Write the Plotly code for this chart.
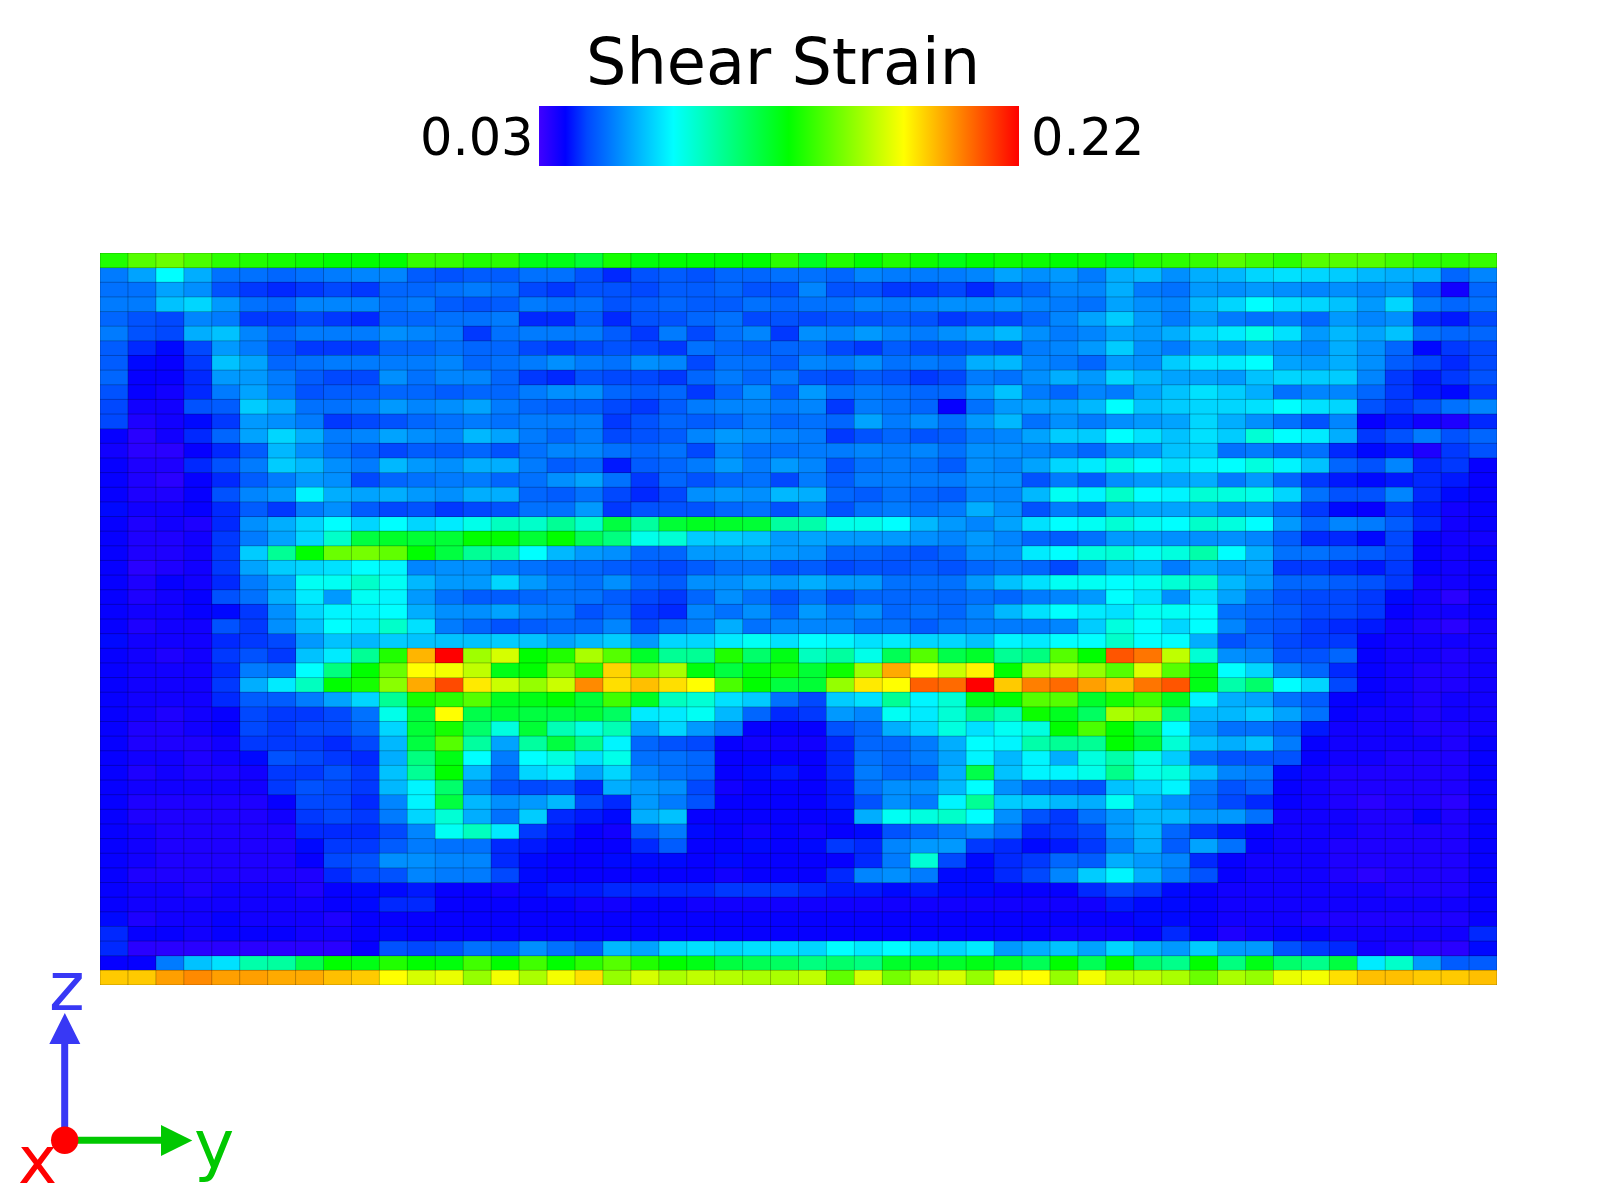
import plotly.graph_objects as go

TITLE = "Shear Strain"
STRAIN_MIN = 0.03
STRAIN_MAX = 0.22
N_COLS = 50
N_ROWS = 50

# Colour-bar position (percent of the bar) of every cell, top row first.
r00 = [55,60,62,59,56,55,54,53,52,52,52,57,57,55,56,50,50, 47,54,51,52,52,52,52,56,49,55,52,55,53,50,52,53, 53,52,53,50,55,56,57,60,58,56,60,60,60,58,56,56,57]
r01 = [15,19,28,20,14,14,13,14,15,16,16,12,11,12,12,14,14, 11,8,11,12,11,13,13,14,14,13,16,15,15,15,16,19, 17,18,15,20,21,17,20,21,24,25,24,23,21,20,20,13,16]
r02 = [14,14,19,17,11,9,8,9,10,9,13,13,14,15,14,10,9, 11,11,10,12,12,13,11,11,16,11,11,9,9,10,8,11, 13,16,16,20,15,14,18,17,18,17,16,17,16,17,11,4,13]
r03 = [15,15,22,24,18,14,13,16,16,16,14,15,12,11,12,15,14, 14,11,12,13,12,12,14,13,14,14,16,15,16,17,17,18, 16,15,14,19,17,16,21,24,28,25,24,22,18,24,15,13,14]
r04 = [13,11,10,16,15,9,9,10,9,8,13,13,14,14,15,8,8, 12,8,11,11,13,14,10,11,10,11,11,12,11,9,10,10, 13,16,19,23,18,15,18,15,14,15,13,18,16,17,8,7,10]
r05 = [15,11,10,20,22,16,13,15,15,15,17,16,15,9,14,15,15, 15,12,9,15,10,14,16,9,17,16,18,16,15,17,19,21, 17,15,16,19,18,20,24,26,30,25,18,21,19,22,14,13,13]
r06 = [12,8,6,10,18,15,11,9,9,9,13,13,14,13,13,10,9, 10,11,10,9,14,13,12,13,13,10,9,12,10,10,11,10, 15,16,18,23,17,15,19,17,19,17,16,20,17,13,6,9,10]
r07 = [12,6,5,9,22,19,13,14,15,15,15,15,16,13,14,15,17, 15,14,17,16,10,14,14,12,16,15,17,14,15,14,20,21, 16,15,13,18,17,23,26,26,28,19,18,20,17,12,10,8,10]
r08 = [13,5,5,8,18,18,15,12,10,10,17,14,16,16,13,9,8, 11,10,10,9,13,15,13,15,11,10,12,11,9,10,15,14, 17,20,18,24,21,19,19,18,22,24,23,23,16,9,7,9,11]
r09 = [11,5,4,8,15,19,15,11,12,12,13,13,12,13,13,15,17, 17,13,12,13,9,13,17,12,18,14,15,14,13,13,18,22, 15,13,16,15,19,22,25,23,20,14,16,16,13,9,7,6,9]
r10 = [10,4,4,11,12,23,20,14,14,15,18,16,17,19,15,13,12, 12,10,9,12,15,16,16,15,16,9,15,14,13,5,14,18, 19,19,21,28,22,23,24,24,25,28,25,24,11,9,11,14,16]
r11 = [10,3,4,6,9,18,17,15,9,10,11,13,14,15,14,15,15, 15,9,11,13,12,13,15,13,14,13,19,15,17,14,18,21, 14,17,15,17,18,19,24,20,17,14,11,16,5,7,4,3,8]
r12 = [5,2,4,8,13,19,24,20,15,16,19,17,16,21,19,15,13, 15,10,11,12,16,18,17,16,15,9,11,13,11,12,15,16, 19,23,23,28,25,22,25,23,32,28,26,20,9,11,15,11,13]
r13 = [4,2,2,5,8,12,21,17,14,12,10,12,12,13,11,14,16, 16,14,13,14,10,16,14,14,15,15,16,15,16,14,17,17, 16,15,13,17,18,22,23,14,15,13,14,8,6,7,3,9,11]
r14 = [5,3,3,8,11,15,23,21,17,15,21,18,17,20,20,15,12, 13,7,12,13,15,18,15,18,16,11,14,15,14,12,17,16, 19,24,26,31,28,25,27,28,31,27,22,13,11,16,8,9,5]
r15 = [5,3,2,5,8,12,15,18,17,10,13,14,15,15,13,14,17, 19,14,9,13,11,13,14,10,15,12,15,15,15,15,17,17, 11,15,12,17,18,19,20,15,18,13,9,7,6,7,8,7,5]
r16 = [5,3,3,5,11,16,18,27,20,19,20,18,17,20,20,13,12, 14,10,8,10,17,18,17,21,20,13,12,14,13,12,16,16, 21,29,27,33,28,27,32,31,30,24,14,11,11,16,8,6,5]
r17 = [6,4,4,5,8,12,9,15,17,12,10,11,9,10,11,14,14, 18,9,11,11,11,13,14,11,15,11,14,15,14,15,20,17, 11,15,13,18,19,19,19,16,17,13,9,6,5,9,7,4,5]
r18 = [5,3,4,3,8,17,20,24,28,24,28,24,26,30,34,33,38, 33,46,37,47,49,48,47,37,36,30,30,28,21,18,16,19, 25,28,29,32,29,28,33,31,28,18,13,16,15,12,8,4,5]
r19 = [5,3,3,4,9,15,19,24,33,46,48,47,47,52,52,47,52, 44,40,30,32,23,23,22,18,19,18,18,18,17,16,18,16, 13,12,14,18,18,17,17,17,16,12,8,8,6,10,5,4,4]
r20 = [5,3,3,4,9,23,38,52,62,63,61,52,46,38,36,28,21, 18,17,13,13,18,18,19,18,17,13,13,12,11,13,17,17, 26,28,31,32,29,31,36,28,20,14,14,13,12,10,5,4,5]
r21 = [5,2,3,4,9,19,23,24,25,28,27,16,17,17,15,14,13, 13,12,11,10,12,14,14,11,12,10,11,11,12,11,13,14, 13,10,15,19,20,15,19,17,18,9,9,8,7,9,5,4,5]
r22 = [5,3,5,4,8,15,19,29,29,33,29,21,18,18,24,18,15, 14,17,13,12,17,17,19,18,20,18,18,14,14,14,18,22, 25,29,29,28,29,32,33,21,18,13,13,12,11,9,4,4,5]
r23 = [5,3,4,5,11,14,20,26,18,29,27,18,14,12,12,13,14, 14,12,10,9,13,17,14,11,14,11,13,13,13,13,14,13, 15,16,18,28,25,17,25,19,14,11,10,10,9,6,4,2,5]
r24 = [5,4,4,5,6,9,17,24,27,27,28,20,17,17,19,16,15, 11,13,9,8,16,14,17,13,18,15,17,13,14,13,16,21, 25,28,26,25,29,29,28,14,13,12,10,10,9,5,4,4,5]
r25 = [5,3,4,4,11,9,17,22,28,26,33,25,15,13,11,12,13, 13,16,10,13,15,20,14,16,16,16,14,14,12,14,15,15, 15,16,23,31,28,24,28,16,12,11,9,8,7,4,3,2,4]
r26 = [6,4,4,4,8,9,10,18,22,21,23,22,22,22,23,22,19, 21,23,18,24,24,26,29,25,28,27,25,26,24,24,22,27, 26,28,28,33,28,28,20,11,13,10,9,9,5,4,4,4,4]
r27 = [5,4,3,4,9,11,9,22,26,38,55,83,100,67,72,52,55, 68,60,48,38,38,55,42,50,34,37,30,44,60,45,48,38, 40,60,52,92,89,70,32,17,16,11,11,13,5,4,4,3,4]
r28 = [5,4,4,4,8,15,14,28,40,52,62,76,75,70,50,52,63, 56,80,63,68,51,46,51,54,47,53,67,84,76,71,77,52, 68,70,66,60,73,60,50,28,24,16,13,8,5,4,3,3,4]
r29 = [5,4,4,4,9,20,26,34,52,54,65,84,93,78,71,66,71, 87,79,82,79,76,59,52,46,47,66,78,76,91,90,100,81, 88,90,85,82,89,92,50,36,42,28,24,10,5,4,3,3,4]
r30 = [5,4,4,4,8,12,12,15,19,24,38,54,56,60,49,50,52, 47,58,49,34,32,25,23,14,10,23,25,38,27,32,50,52, 60,60,48,54,58,49,27,20,19,14,12,5,5,4,3,4,4]
r31 = [5,4,3,4,5,10,9,9,10,14,30,46,76,45,47,46,46, 47,43,26,26,29,21,13,8,9,18,16,29,26,32,40,35, 53,49,43,68,66,40,21,21,23,19,14,5,4,4,3,4,4]
r32 = [5,3,3,4,5,10,9,10,10,13,24,47,54,42,31,47,35, 31,35,19,24,18,15,5,5,5,11,13,20,24,31,25,29, 31,52,59,52,44,28,18,14,14,12,7,4,4,4,3,3,4]
r33 = [5,3,3,3,4,9,9,9,8,10,21,46,60,37,19,37,46, 39,27,13,11,10,5,4,4,4,8,13,13,15,20,28,27, 36,38,38,52,47,32,22,20,22,15,5,4,4,4,4,3,5]
r34 = [5,4,4,3,4,6,11,10,9,8,20,40,50,28,15,28,31, 25,30,14,14,13,5,5,5,5,8,14,13,15,19,27,21, 27,20,31,36,30,23,13,11,11,11,5,4,4,3,3,3,5]
r35 = [5,3,4,3,3,4,9,9,11,9,22,38,52,21,13,24,26, 19,24,16,14,13,5,6,7,5,8,15,13,13,20,45,22, 27,27,30,39,30,31,22,16,15,6,4,3,3,3,3,3,5]
r36 = [5,4,4,4,4,4,9,11,10,9,21,27,42,16,11,10,11, 8,20,18,17,10,4,5,5,5,7,14,17,17,21,28,17, 13,12,11,22,24,27,15,11,13,5,4,3,3,3,3,3,5]
r37 = [5,3,3,3,3,3,5,10,10,8,16,27,46,21,17,18,21, 10,8,18,15,11,5,5,5,5,7,11,17,15,27,38,23, 23,21,20,29,21,17,14,10,8,5,4,3,2,3,3,2,5]
r38 = [5,3,3,3,3,3,4,9,10,9,15,24,32,20,14,23,8, 7,6,20,22,5,5,5,5,5,6,20,29,31,33,28,17, 11,9,14,18,21,21,18,18,14,4,4,4,3,3,5,3,5]
r39 = [5,4,3,3,3,3,3,8,8,8,10,16,29,34,26,9,7, 5,4,12,15,6,5,4,5,4,5,6,11,13,15,17,14, 8,9,10,18,21,13,9,7,5,4,4,4,3,3,3,3,5]
r40 = [5,4,3,3,3,3,3,6,9,9,12,15,14,14,8,7,6, 5,5,8,12,5,5,6,5,6,9,8,16,18,18,9,8, 6,7,9,15,20,12,19,14,5,4,4,3,3,3,3,3,5]
r41 = [5,4,3,3,3,3,3,5,10,11,17,17,16,16,8,6,5, 5,6,6,6,5,6,5,5,5,5,8,15,32,10,6,8, 9,13,12,20,18,16,8,5,4,4,4,3,3,3,3,3,5]
r42 = [5,3,3,3,3,3,3,3,8,10,11,16,15,15,10,6,5, 5,5,5,5,5,4,5,5,5,8,16,17,15,6,6,8, 10,16,23,27,20,15,11,5,4,4,4,3,2,3,3,3,5]
r43 = [5,4,4,3,4,4,4,3,5,6,6,7,5,5,4,6,7, 7,8,8,8,8,9,9,9,8,7,7,6,7,6,6,5, 5,5,8,10,9,6,5,4,4,4,4,4,4,3,3,3,5]
r44 = [5,4,4,4,4,4,4,4,5,6,8,8,5,5,5,5,5, 4,4,5,5,4,4,4,4,4,4,4,4,4,4,4,4, 4,4,4,7,6,6,5,4,4,4,4,4,4,4,4,4,5]
r45 = [6,3,4,4,5,4,4,4,3,5,5,5,5,5,5,5,5, 5,5,5,5,5,5,5,5,5,5,5,5,5,5,5,5, 5,5,5,5,6,6,5,4,4,4,3,3,3,3,3,3,5]
r46 = [8,5,5,4,5,5,5,4,4,5,6,5,5,5,5,5,5, 5,5,5,5,5,5,5,5,5,5,5,5,5,5,5,5, 5,4,4,4,5,8,5,3,4,5,5,4,4,4,4,4,8]
r47 = [8,2,2,2,2,2,2,2,2,5,11,10,11,14,13,17,14, 12,21,19,24,25,24,25,25,24,28,26,28,25,24,26,18, 20,22,19,24,20,18,23,18,18,11,9,8,4,3,2,2,6]
r48 = [5,5,15,22,25,36,37,45,52,50,55,52,51,58,52,58,52, 56,60,55,52,50,46,44,43,40,42,40,48,49,48,50,48, 44,52,44,52,42,39,52,40,50,42,39,46,26,33,18,12,12]
r49 = [81,81,85,87,85,85,84,84,82,81,76,72,74,66,75,68,75, 79,66,72,68,70,69,68,68,70,61,72,63,70,72,66,75, 76,66,75,70,70,68,62,68,66,74,75,79,82,82,81,81,82]

levels = [r00,r01,r02,r03,r04,r05,r06,r07,r08,r09,r10,r11,r12,r13,r14,r15,r16,r17,r18,r19,
          r20,r21,r22,r23,r24,r25,r26,r27,r28,r29,r30,r31,r32,r33,r34,r35,r36,r37,r38,r39,
          r40,r41,r42,r43,r44,r45,r46,r47,r48,r49]
for i, row in enumerate(levels):
    assert len(row) == N_COLS, (i, len(row))

z = [[STRAIN_MIN + v / 100 * (STRAIN_MAX - STRAIN_MIN) for v in row] for row in levels]

colorscale = [[0.0, "#4000ff"], [0.055, "#0000ff"], [0.10, "#0048ff"], [0.28, "#00ffff"],
              [0.52, "#00ff00"], [0.76, "#ffff00"], [1.0, "#ff0000"]]

W, H = 1600, 1200
L, R, T, B = 100, 103, 253, 215
PW, PH = W - L - R, H - T - B
px = lambda x: (x - L) / PW
py = lambda y: 1 - (y - T) / PH

fig = go.Figure()
fig.add_trace(go.Heatmap(
    z=z, x=list(range(N_COLS)), y=list(range(N_ROWS)),
    colorscale=colorscale, zmin=STRAIN_MIN, zmax=STRAIN_MAX, zsmooth=False,
    colorbar=dict(orientation="h", xref="container", yref="container",
                  x=617.8 / W, xanchor="left", y=1 - 165.5 / H, yanchor="bottom",
                  len=479.5, lenmode="pixels", thickness=59.5, thicknessmode="pixels",
                  outlinewidth=0, borderwidth=0, xpad=0, ypad=0, ticks="", showticklabels=False),
    hoverinfo="skip"))

# cell outlines (mesh edges)
mx, my = [], []
for i in range(N_COLS + 1):
    mx += [i - 0.5, i - 0.5, None]
    my += [-0.5, N_ROWS - 0.5, None]
for j in range(N_ROWS + 1):
    mx += [-0.5, N_COLS - 0.5, None]
    my += [j - 0.5, j - 0.5, None]
fig.add_trace(go.Scatter(x=mx, y=my, mode="lines", line=dict(color="rgba(0,0,0,0.25)", width=1),
                         hoverinfo="skip", showlegend=False, cliponaxis=False))

FONT = "DejaVu Sans"
BLUE, GREEN, RED_ = "#3838f5", "#00c800", "#ff0000"

def label(text, x, y, size, color="black"):
    return dict(text=text, x=px(x), y=py(y), xref="paper", yref="paper", showarrow=False,
                xanchor="center", yanchor="middle", font=dict(family=FONT, size=size, color=color))

annotations = [
    label(TITLE, 783, 62, 63.7),
    label(f"{STRAIN_MIN:.2f}", 477, 137, 51),
    label(f"{STRAIN_MAX:.2f}", 1087.5, 137, 51),
    label("z", 67, 987, 68, BLUE),
    label("y", 214, 1144, 68, GREEN),
    label("x", 37, 1160, 66, RED_),
]

def path(points):
    return "M " + " L ".join(f"{px(a)},{py(b)}" for a, b in points) + " Z"

shapes = [
    dict(type="line", xref="paper", yref="paper", x0=px(64.7), x1=px(64.7), y0=py(1140), y1=py(1040),
         line=dict(color=BLUE, width=7)),
    dict(type="path", xref="paper", yref="paper", path=path([(49.3, 1044), (80.3, 1044), (64.8, 1013)]),
         fillcolor=BLUE, line=dict(width=0)),
    dict(type="line", xref="paper", yref="paper", x0=px(64.7), x1=px(165), y0=py(1140.3), y1=py(1140.3),
         line=dict(color=GREEN, width=7)),
    dict(type="path", xref="paper", yref="paper", path=path([(161, 1125), (161, 1156), (192.3, 1140.5)]),
         fillcolor=GREEN, line=dict(width=0)),
    dict(type="circle", xref="paper", yref="paper", x0=px(51), x1=px(78.4), y0=py(1154), y1=py(1126.6),
         fillcolor=RED_, line=dict(width=0)),
]

fig.update_layout(
    width=W, height=H, paper_bgcolor="white", plot_bgcolor="white",
    margin=dict(l=L, r=R, t=T, b=B, pad=0, autoexpand=False),
    xaxis=dict(visible=False, range=[-0.5, N_COLS - 0.5]),
    yaxis=dict(visible=False, range=[N_ROWS - 0.5, -0.5]),
    showlegend=False, annotations=annotations, shapes=shapes)

fig.write_html("out.html", config=dict(displayModeBar=False),
               post_script="document.body.style.margin='0';document.body.style.overflow='hidden';")
